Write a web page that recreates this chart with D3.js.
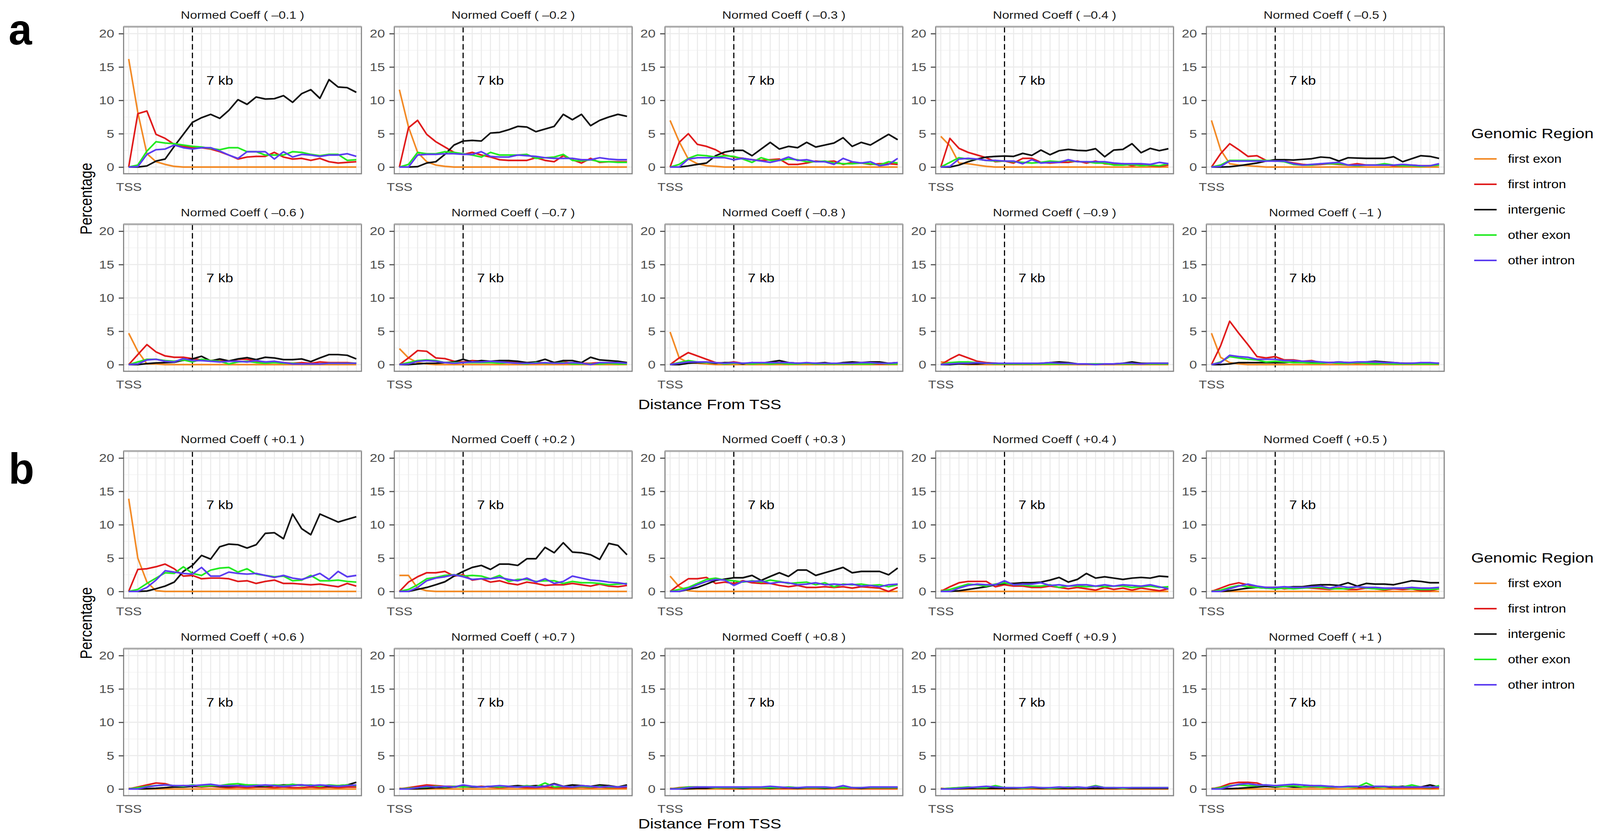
<!DOCTYPE html>
<html>
<head>
<meta charset="utf-8">
<script src="https://cdn.jsdelivr.net/npm/d3@7"></script>
<style>
  html, body { margin: 0; padding: 0; background: #fff; overflow: hidden; }
  svg { display: block; width: 100vw; height: 100vh; }
  text { font-family: "Liberation Sans", Arial, Helvetica, sans-serif; }
</style>
</head>
<body>
<svg id="chart"></svg>
<script>
// ---- data -------------------------------------------------------------
const regions = ["first exon", "first intron", "intergenic", "other exon", "other intron"];
const regionColors = ["#F28A26", "#E01B1C", "#111111", "#22EA22", "#5B3CF0"];

const coeffsA = ["–0.1", "–0.2", "–0.3", "–0.4", "–0.5", "–0.6", "–0.7", "–0.8", "–0.9", "–1"];
const coeffsB = ["+0.1", "+0.2", "+0.3", "+0.4", "+0.5", "+0.6", "+0.7", "+0.8", "+0.9", "+1"];

// distance bins from the TSS (kb)
const distanceKb = [0, 1, 2, 3, 4, 5, 6, 7, 8, 9, 10, 11, 12, 13, 14, 15, 16, 17, 18, 19, 20, 21, 22, 23, 24, 25];
const cutoffKb = 7;

// percentages, one row per panel (negative coefficients)
const firstExonA = [
  [16.2, 8.2, 2.0, 0.8, 0.4, 0.1, 0, 0, 0, 0, 0, 0, 0, 0, 0, 0, 0, 0, 0, 0, 0, 0, 0, 0, 0, 0],
  [11.6, 6.0, 2.2, 0.8, 0.3, 0.1, 0, 0, 0, 0, 0, 0, 0, 0, 0, 0, 0, 0, 0, 0, 0, 0, 0, 0, 0, 0],
  [7.0, 3.8, 1.2, 0.5, 0.2, 0.1, 0, 0, 0, 0, 0, 0, 0, 0, 0, 0, 0, 0, 0, 0, 0, 0, 0, 0, 0, 0],
  [4.6, 3.2, 0.6, 0.5, 0.3, 0.1, 0, 0, 0, 0, 0, 0, 0, 0, 0, 0, 0, 0, 0, 0, 0, 0, 0, 0, 0, 0],
  [7.0, 2.6, 0.5, 0.3, 0.2, 0.1, 0, 0, 0, 0, 0, 0, 0, 0, 0, 0, 0, 0, 0, 0, 0, 0, 0, 0, 0, 0],
  [4.7, 2.0, 0.1, 0.1, 0, 0, 0, 0, 0, 0, 0, 0, 0, 0, 0, 0, 0, 0, 0, 0, 0, 0, 0, 0, 0, 0],
  [2.4, 1.0, 0.3, 0.1, 0, 0, 0, 0, 0, 0, 0, 0, 0, 0, 0, 0, 0, 0, 0, 0, 0, 0, 0, 0, 0, 0],
  [4.9, 1.0, 0.3, 0.2, 0.1, 0, 0, 0, 0, 0, 0, 0, 0, 0, 0, 0, 0, 0, 0, 0, 0, 0, 0, 0, 0, 0],
  [0.4, 0.3, 0.1, 0, 0, 0, 0, 0, 0, 0, 0, 0, 0, 0, 0, 0, 0, 0, 0, 0, 0, 0, 0, 0, 0, 0],
  [4.7, 1.1, 0.3, 0.1, 0, 0, 0, 0, 0, 0, 0, 0, 0, 0, 0, 0, 0, 0, 0, 0, 0, 0, 0, 0, 0, 0]
];
const firstIntronA = [
  [0, 8.0, 8.4, 4.9, 4.3, 3.4, 3.1, 2.9, 2.9, 2.7, 2.3, 1.8, 1.2, 1.5, 1.6, 1.6, 2.2, 1.5, 1.2, 1.3, 1.0, 1.3, 0.8, 0.6, 0.7, 0.8],
  [0, 5.9, 7.0, 4.9, 3.8, 3.0, 2.2, 1.9, 2.2, 1.8, 1.5, 1.1, 1.0, 1.0, 1.0, 1.4, 1.0, 0.8, 1.7, 1.1, 0.6, 1.3, 0.7, 0.8, 0.8, 0.8],
  [0, 3.7, 5.0, 3.4, 3.1, 2.6, 1.8, 1.5, 1.3, 1.1, 1.0, 1.1, 1.2, 0.4, 0.4, 0.6, 0.9, 0.8, 0.9, 0.4, 0.7, 0.6, 0.4, 0.5, 0.5, 0.4],
  [0, 4.3, 2.8, 2.2, 1.8, 1.4, 0.8, 0.9, 0.6, 1.3, 1.3, 0.7, 0.6, 0.7, 0.7, 0.9, 0.6, 0.9, 0.5, 0.4, 0.5, 0.2, 0.4, 0.2, 0.1, 0.3],
  [0, 2.0, 3.5, 2.6, 1.6, 1.7, 1.0, 0.9, 0.9, 0.6, 0.4, 0.3, 0.4, 0.5, 0.4, 0.3, 0.5, 0.3, 0.3, 0.4, 0.2, 0.2, 0.3, 0.2, 0.2, 0.3],
  [0, 1.5, 3.0, 1.9, 1.3, 1.1, 1.1, 0.9, 0.7, 0.6, 0.7, 0.5, 0.8, 0.8, 0.5, 0.4, 0.4, 0.3, 0.2, 0.3, 0.2, 0.4, 0.3, 0.3, 0.3, 0.2],
  [0, 1.0, 2.1, 2.0, 1.0, 0.9, 0.5, 0.4, 0.6, 0.5, 0.4, 0.3, 0.4, 0.3, 0.2, 0.4, 0.2, 0.3, 0.4, 0.2, 0.2, 0.2, 0.3, 0.2, 0.2, 0.2],
  [0, 1.0, 1.8, 1.3, 0.8, 0.3, 0.2, 0.4, 0.2, 0.2, 0.2, 0.3, 0.2, 0.1, 0.2, 0.2, 0.1, 0.1, 0.1, 0.2, 0.1, 0.2, 0.1, 0.1, 0.1, 0.2],
  [0, 0.8, 1.5, 1.0, 0.5, 0.3, 0.2, 0.1, 0.1, 0.1, 0.1, 0.1, 0.2, 0.1, 0.1, 0.1, 0.1, 0.1, 0.1, 0.1, 0.1, 0.1, 0.1, 0.1, 0.1, 0.1],
  [0, 2.8, 6.5, 4.7, 3.0, 1.2, 1.0, 1.2, 0.7, 0.7, 0.5, 0.6, 0.3, 0.3, 0.4, 0.3, 0.2, 0.3, 0.2, 0.3, 0.2, 0.2, 0.1, 0.2, 0.2, 0.2]
];
const intergenicA = [
  [0, 0, 0.17, 0.9, 1.2, 3.1, 4.9, 6.7, 7.4, 7.9, 7.3, 8.5, 10.1, 9.4, 10.5, 10.2, 10.25, 10.7, 9.7, 11.0, 11.6, 10.3, 13.1, 12.0, 11.9, 11.2],
  [0, 0, 0.06, 0.6, 0.8, 1.9, 3.3, 3.9, 4.0, 3.9, 5.1, 5.2, 5.6, 6.1, 6.0, 5.3, 5.7, 6.1, 7.9, 7.1, 7.9, 6.2, 7.0, 7.5, 7.9, 7.6],
  [0, 0, 0.17, 0.4, 0.6, 1.7, 2.25, 2.5, 2.5, 1.7, 2.7, 3.7, 2.7, 3.1, 2.9, 3.7, 3.0, 3.3, 3.6, 4.4, 3.1, 3.7, 3.3, 4.1, 4.9, 4.1],
  [0, 0, 0.3, 0.8, 1.2, 1.5, 1.6, 1.65, 1.6, 2.05, 1.75, 2.55, 1.85, 2.45, 2.65, 2.5, 2.45, 2.75, 1.55, 2.55, 2.65, 3.5, 2.15, 2.8, 2.45, 2.75],
  [0, 0, 0.05, 0.2, 0.4, 0.6, 0.9, 1.1, 1.1, 1.05, 1.15, 1.25, 1.5, 1.4, 0.9, 1.4, 1.35, 1.3, 1.3, 1.3, 1.55, 0.8, 1.25, 1.7, 1.6, 1.3],
  [0, 0, 0.15, 0.25, 0.3, 0.35, 0.65, 0.85, 1.25, 0.55, 0.85, 0.55, 0.85, 1.05, 0.75, 1.1, 1.0, 0.75, 0.75, 0.85, 0.45, 1.0, 1.5, 1.5, 1.4, 0.85],
  [0, 0, 0.1, 0.2, 0.2, 0.3, 0.4, 0.8, 0.4, 0.6, 0.5, 0.6, 0.6, 0.5, 0.3, 0.4, 0.8, 0.3, 0.6, 0.6, 0.3, 1.1, 0.7, 0.6, 0.5, 0.3],
  [0, 0, 0.2, 0.3, 0.3, 0.2, 0.3, 0.3, 0.1, 0.3, 0.2, 0.4, 0.6, 0.3, 0.2, 0.2, 0.2, 0.3, 0.1, 0.3, 0.4, 0.3, 0.4, 0.4, 0.2, 0.3],
  [0, 0, 0.1, 0.1, 0.1, 0.2, 0.2, 0.1, 0.1, 0.1, 0.1, 0.2, 0.3, 0.4, 0.3, 0.1, 0.1, 0.1, 0.1, 0.1, 0.2, 0.4, 0.2, 0.2, 0.2, 0.2],
  [0, 0, 0.1, 0.3, 0.3, 0.3, 0.3, 0.3, 0.3, 0.4, 0.4, 0.3, 0.3, 0.3, 0.3, 0.3, 0.3, 0.4, 0.5, 0.4, 0.3, 0.2, 0.2, 0.2, 0.2, 0.2]
];
const otherExonA = [
  [0, 0.3, 2.4, 3.8, 3.6, 3.5, 3.3, 3.1, 3.0, 2.8, 2.6, 2.9, 2.9, 2.3, 2.3, 1.8, 1.8, 1.8, 2.3, 2.2, 1.9, 1.7, 1.9, 1.9, 1.0, 1.1],
  [0, 0.4, 2.2, 2.0, 2.0, 2.3, 2.2, 2.0, 1.8, 1.5, 2.2, 1.8, 1.8, 1.8, 1.9, 1.3, 1.4, 1.5, 1.9, 1.0, 0.9, 1.1, 0.8, 0.8, 0.7, 0.7],
  [0, 0.4, 1.3, 1.8, 1.7, 1.5, 1.7, 1.6, 1.2, 0.7, 1.4, 1.0, 1.0, 1.2, 1.1, 0.8, 0.8, 0.9, 0.6, 0.5, 0.5, 0.6, 0.5, 0.3, 0.8, 0.6],
  [0, 0.7, 1.4, 1.2, 1.2, 1.0, 0.9, 0.9, 0.8, 0.7, 0.6, 0.7, 0.9, 0.8, 1.0, 0.8, 0.8, 0.6, 0.6, 0.3, 0.3, 0.4, 0.2, 0.3, 0.2, 0.5],
  [0, 0.3, 1.0, 1.0, 1.0, 1.0, 1.0, 0.9, 0.8, 0.4, 0.3, 0.3, 0.5, 0.5, 0.5, 0.3, 0.2, 0.3, 0.3, 0.5, 0.3, 0.2, 0.2, 0.1, 0.2, 0.3],
  [0, 0.4, 0.8, 0.8, 0.6, 0.5, 0.7, 0.4, 0.8, 0.6, 0.5, 0.1, 0.4, 0.5, 0.3, 0.2, 0.3, 0.2, 0.2, 0.1, 0.1, 0.1, 0.2, 0.2, 0.2, 0.2],
  [0, 0.3, 0.6, 0.7, 0.6, 0.3, 0.3, 0.3, 0.3, 0.3, 0.3, 0.2, 0.3, 0.2, 0.1, 0.3, 0.2, 0.2, 0.3, 0.1, 0.1, 0.1, 0.1, 0.2, 0.1, 0.1],
  [0, 0.3, 0.6, 0.4, 0.3, 0.3, 0.1, 0.2, 0.2, 0.1, 0.2, 0.1, 0.2, 0.1, 0.1, 0.2, 0.1, 0.1, 0.1, 0.1, 0.1, 0.1, 0.1, 0.2, 0.1, 0.1],
  [0, 0.3, 0.4, 0.4, 0.3, 0.2, 0.1, 0.1, 0.1, 0.1, 0.1, 0.1, 0.1, 0.1, 0.1, 0.1, 0.1, 0.1, 0.1, 0.1, 0.1, 0.1, 0.1, 0.1, 0.1, 0.1],
  [0, 0.4, 1.2, 1.0, 0.8, 0.7, 0.4, 0.5, 0.4, 0.3, 0.3, 0.2, 0.2, 0.3, 0.2, 0.2, 0.3, 0.2, 0.1, 0.2, 0.1, 0.1, 0.1, 0.1, 0.1, 0.1]
];
const otherIntronA = [
  [0, 0.06, 1.9, 2.6, 2.7, 3.3, 2.9, 2.7, 2.9, 2.9, 2.4, 1.8, 1.3, 2.3, 2.3, 2.3, 1.2, 2.3, 1.5, 1.9, 1.8, 1.6, 1.8, 1.8, 2.0, 1.6],
  [0, 0, 1.8, 1.9, 1.9, 2.0, 2.0, 1.9, 1.9, 2.3, 1.6, 1.5, 1.5, 1.8, 1.7, 1.6, 1.4, 1.3, 1.3, 1.3, 1.1, 1.1, 1.4, 1.2, 1.1, 1.1],
  [0, 0, 1.2, 1.4, 1.4, 1.4, 1.4, 1.1, 1.3, 1.1, 0.9, 0.7, 1.0, 1.5, 1.0, 1.1, 0.8, 0.8, 0.4, 1.3, 0.8, 0.6, 0.8, 0.2, 0.4, 1.3],
  [0, 0.1, 1.2, 1.3, 1.2, 1.0, 1.0, 0.9, 0.9, 0.5, 1.1, 0.6, 0.7, 0.7, 1.1, 0.8, 0.8, 0.8, 0.8, 0.6, 0.5, 0.5, 0.5, 0.4, 0.7, 0.5],
  [0, 0.1, 0.9, 0.9, 0.9, 0.9, 0.9, 0.9, 0.9, 0.5, 0.3, 0.4, 0.5, 0.6, 0.7, 0.3, 0.3, 0.3, 0.3, 0.3, 0.3, 0.4, 0.3, 0.2, 0.2, 0.5],
  [0, 0.1, 0.7, 0.8, 0.5, 0.4, 0.9, 0.6, 0.6, 0.5, 0.4, 0.5, 0.5, 0.4, 0.6, 0.4, 0.5, 0.3, 0.1, 0.1, 0.1, 0.1, 0.2, 0.2, 0.2, 0.2],
  [0, 0.1, 0.5, 0.6, 0.5, 0.3, 0.2, 0.3, 0.4, 0.4, 0.5, 0.4, 0.3, 0.2, 0.2, 0.2, 0.3, 0.2, 0.2, 0.3, 0.2, 0.0, 0.3, 0.3, 0.3, 0.2],
  [0, 0.2, 0.4, 0.4, 0.4, 0.3, 0.2, 0.3, 0.2, 0.3, 0.3, 0.3, 0.3, 0.3, 0.2, 0.3, 0.2, 0.2, 0.2, 0.2, 0.2, 0.3, 0.3, 0.2, 0.2, 0.3],
  [0, 0.1, 0.2, 0.2, 0.3, 0.2, 0.2, 0.2, 0.2, 0.2, 0.2, 0.2, 0.3, 0.2, 0.2, 0.1, 0.1, 0.0, 0.1, 0.1, 0.2, 0.2, 0.1, 0.2, 0.2, 0.2],
  [0, 0.3, 1.4, 1.2, 1.1, 0.8, 0.8, 0.8, 0.6, 0.6, 0.5, 0.5, 0.4, 0.3, 0.4, 0.3, 0.4, 0.4, 0.4, 0.3, 0.3, 0.2, 0.2, 0.3, 0.3, 0.2]
];

// percentages, one row per panel (positive coefficients)
const firstExonB = [
  [13.9, 5.0, 1.4, 0.1, 0, 0, 0, 0, 0, 0, 0, 0, 0, 0, 0, 0, 0, 0, 0, 0, 0, 0, 0, 0, 0, 0],
  [2.4, 2.4, 0.5, 0.1, 0, 0, 0, 0, 0, 0, 0, 0, 0, 0, 0, 0, 0, 0, 0, 0, 0, 0, 0, 0, 0, 0],
  [2.3, 0.7, 0.1, 0, 0, 0, 0, 0, 0, 0, 0, 0, 0, 0, 0, 0, 0, 0, 0, 0, 0, 0, 0, 0, 0, 0],
  [0.2, 0.1, 0, 0, 0, 0, 0, 0, 0, 0, 0, 0, 0, 0, 0, 0, 0, 0, 0, 0, 0, 0, 0, 0, 0, 0],
  [0.1, 0, 0, 0, 0, 0, 0, 0, 0, 0, 0, 0, 0, 0, 0, 0, 0, 0, 0, 0, 0, 0, 0, 0, 0, 0],
  [0.1, 0, 0, 0, 0, 0, 0, 0, 0, 0, 0, 0, 0, 0, 0, 0, 0, 0, 0, 0, 0, 0, 0, 0, 0, 0],
  [0.1, 0, 0, 0, 0, 0, 0, 0, 0, 0, 0, 0, 0, 0, 0, 0, 0, 0, 0, 0, 0, 0, 0, 0, 0, 0],
  [0.1, 0, 0, 0, 0, 0, 0, 0, 0, 0, 0, 0, 0, 0, 0, 0, 0, 0, 0, 0, 0, 0, 0, 0, 0, 0],
  [0.1, 0, 0, 0, 0, 0, 0, 0, 0, 0, 0, 0, 0, 0, 0, 0, 0, 0, 0, 0, 0, 0, 0, 0, 0, 0],
  [0.1, 0.1, 0, 0, 0, 0, 0, 0, 0, 0, 0, 0, 0, 0, 0, 0, 0, 0, 0, 0, 0, 0, 0, 0, 0, 0]
];
const firstIntronB = [
  [0, 3.3, 3.4, 3.7, 4.1, 3.4, 2.3, 2.4, 1.9, 2.0, 2.0, 1.9, 1.5, 1.6, 1.2, 1.5, 1.7, 1.2, 1.2, 1.1, 1.0, 1.1, 0.9, 0.7, 1.2, 0.8],
  [0, 1.4, 2.2, 2.8, 2.8, 3.0, 2.3, 2.5, 1.7, 1.9, 1.4, 1.6, 1.2, 1.0, 1.4, 1.2, 0.9, 1.0, 1.0, 1.2, 1.0, 0.8, 1.1, 0.8, 0.7, 0.9],
  [0, 1.0, 1.9, 1.9, 2.1, 1.2, 1.4, 1.2, 1.6, 1.3, 1.2, 1.2, 0.9, 0.7, 0.9, 0.6, 0.6, 0.7, 0.6, 0.7, 0.5, 0.7, 0.6, 0.5, 0.0, 0.6],
  [0, 0.7, 1.3, 1.5, 1.5, 1.5, 0.7, 1.0, 0.8, 0.8, 0.6, 0.6, 0.8, 0.6, 0.4, 0.6, 0.4, 0.2, 0.6, 0.3, 0.5, 0.2, 0.5, 0.3, 0.1, 0.4],
  [0, 0.5, 1.0, 1.3, 1.0, 0.6, 0.6, 0.6, 0.4, 0.5, 0.6, 0.5, 0.4, 0.3, 0.5, 0.3, 0.3, 0.5, 0.4, 0.2, 0.4, 0.3, 0.4, 0.1, 0.1, 0.4],
  [0, 0.3, 0.6, 0.9, 0.8, 0.4, 0.5, 0.4, 0.3, 0.4, 0.3, 0.2, 0.3, 0.2, 0.3, 0.3, 0.2, 0.3, 0.2, 0.2, 0.3, 0.2, 0.3, 0.2, 0.3, 0.3],
  [0, 0.2, 0.4, 0.6, 0.5, 0.4, 0.4, 0.3, 0.3, 0.4, 0.3, 0.2, 0.3, 0.3, 0.2, 0.2, 0.3, 0.2, 0.2, 0.2, 0.3, 0.2, 0.3, 0.2, 0.2, 0.2],
  [0, 0.2, 0.3, 0.3, 0.2, 0.2, 0.1, 0.1, 0.1, 0.1, 0.1, 0.1, 0.1, 0.1, 0.1, 0.1, 0.1, 0.1, 0.1, 0.1, 0.1, 0.1, 0.1, 0.1, 0.1, 0.1],
  [0, 0.1, 0.2, 0.2, 0.2, 0.1, 0.1, 0.1, 0.1, 0.1, 0.1, 0.1, 0.1, 0.1, 0.1, 0.1, 0.1, 0.1, 0.1, 0.1, 0.1, 0.1, 0.1, 0.1, 0.1, 0.1],
  [0, 0.3, 0.8, 1.0, 1.0, 0.9, 0.4, 0.5, 0.5, 0.4, 0.3, 0.3, 0.3, 0.2, 0.3, 0.3, 0.2, 0.2, 0.2, 0.3, 0.2, 0.2, 0.2, 0.2, 0.1, 0.2]
];
const intergenicB = [
  [0, 0, 0.06, 0.4, 0.8, 1.4, 3.0, 3.9, 5.4, 4.85, 6.7, 7.1, 7.0, 6.5, 7.0, 8.7, 8.8, 7.9, 11.6, 9.4, 8.5, 11.6, 11.0, 10.4, 10.8, 11.2],
  [0, 0, 0.3, 0.6, 1.0, 1.45, 2.3, 3.0, 3.6, 3.9, 3.3, 4.1, 4.1, 3.9, 4.9, 4.9, 6.6, 5.8, 7.3, 5.9, 5.8, 5.5, 4.8, 7.2, 6.9, 5.5],
  [0, 0, 0.3, 0.6, 1.1, 1.65, 1.85, 2.05, 2.05, 2.4, 1.65, 2.25, 2.8, 2.25, 3.2, 3.2, 2.4, 2.8, 3.2, 3.6, 2.8, 3.0, 3.0, 3.0, 2.5, 3.5],
  [0, 0, 0.1, 0.3, 0.5, 0.7, 1.0, 1.2, 1.2, 1.3, 1.3, 1.4, 1.7, 2.1, 1.4, 1.8, 2.7, 2.0, 2.2, 2.0, 1.8, 2.0, 2.1, 2.0, 2.3, 2.2],
  [0, 0, 0.1, 0.3, 0.5, 0.6, 0.5, 0.6, 0.6, 0.7, 0.7, 0.9, 1.0, 1.0, 0.9, 1.3, 0.8, 1.2, 1.1, 1.1, 1.0, 1.3, 1.6, 1.5, 1.3, 1.3],
  [0, 0, 0.05, 0.1, 0.2, 0.3, 0.3, 0.4, 0.5, 0.5, 0.4, 0.4, 0.5, 0.6, 0.4, 0.4, 0.5, 0.6, 0.6, 0.6, 0.5, 0.5, 0.4, 0.5, 0.6, 1.0],
  [0, 0, 0.05, 0.1, 0.2, 0.2, 0.3, 0.4, 0.3, 0.3, 0.4, 0.3, 0.4, 0.5, 0.4, 0.5, 0.4, 0.8, 0.4, 0.6, 0.5, 0.4, 0.6, 0.5, 0.3, 0.6],
  [0, 0, 0.05, 0.1, 0.1, 0.2, 0.2, 0.2, 0.1, 0.2, 0.2, 0.1, 0.2, 0.2, 0.1, 0.2, 0.2, 0.1, 0.2, 0.2, 0.2, 0.1, 0.2, 0.2, 0.2, 0.2],
  [0, 0, 0.05, 0.1, 0.1, 0.1, 0.1, 0.1, 0.1, 0.1, 0.2, 0.1, 0.1, 0.1, 0.1, 0.1, 0.1, 0.1, 0.1, 0.1, 0.1, 0.1, 0.1, 0.1, 0.1, 0.1],
  [0, 0, 0.05, 0.1, 0.2, 0.3, 0.4, 0.3, 0.4, 0.3, 0.3, 0.5, 0.3, 0.4, 0.3, 0.3, 0.3, 0.4, 0.3, 0.3, 0.3, 0.4, 0.3, 0.3, 0.6, 0.3]
];
const otherExonB = [
  [0, 0.3, 1.2, 2.0, 2.8, 2.7, 3.7, 2.7, 2.4, 3.2, 3.5, 3.6, 2.9, 3.4, 2.6, 2.4, 2.2, 2.3, 1.6, 1.7, 2.4, 1.6, 1.6, 1.7, 1.5, 1.4],
  [0, 0.3, 1.0, 1.9, 2.1, 2.4, 2.5, 2.3, 2.4, 2.3, 1.9, 2.4, 1.5, 1.8, 1.8, 1.5, 1.6, 1.6, 1.2, 1.5, 1.3, 1.3, 1.2, 1.0, 1.1, 1.2],
  [0, 0.3, 0.6, 1.2, 1.8, 2.0, 1.7, 1.6, 1.4, 1.6, 1.4, 1.7, 1.5, 1.2, 1.3, 1.4, 1.0, 1.3, 0.7, 1.1, 1.0, 1.1, 0.9, 1.0, 0.7, 1.0],
  [0, 0.3, 0.7, 1.1, 1.0, 0.8, 1.1, 1.3, 1.0, 1.0, 0.8, 0.8, 1.0, 0.6, 0.8, 0.8, 0.7, 0.8, 0.7, 0.8, 0.8, 0.6, 0.7, 0.8, 0.6, 0.7],
  [0, 0.2, 0.6, 0.9, 0.7, 0.6, 0.5, 0.4, 0.5, 0.4, 0.5, 0.6, 0.6, 0.4, 0.4, 0.4, 0.7, 0.5, 0.4, 0.3, 0.5, 0.5, 0.4, 0.3, 0.3, 0.4],
  [0, 0.2, 0.4, 0.5, 0.6, 0.5, 0.4, 0.6, 0.4, 0.5, 0.5, 0.7, 0.8, 0.6, 0.6, 0.5, 0.6, 0.5, 0.7, 0.5, 0.6, 0.4, 0.6, 0.5, 0.6, 0.5],
  [0, 0.1, 0.2, 0.3, 0.4, 0.3, 0.4, 0.3, 0.4, 0.3, 0.4, 0.3, 0.4, 0.3, 0.5, 0.3, 0.9, 0.3, 0.4, 0.3, 0.4, 0.3, 0.4, 0.3, 0.3, 0.4],
  [0, 0.1, 0.3, 0.3, 0.3, 0.2, 0.2, 0.2, 0.2, 0.2, 0.2, 0.2, 0.2, 0.3, 0.2, 0.2, 0.2, 0.2, 0.2, 0.2, 0.2, 0.2, 0.2, 0.2, 0.2, 0.2],
  [0, 0.1, 0.2, 0.3, 0.2, 0.2, 0.5, 0.2, 0.2, 0.1, 0.2, 0.2, 0.1, 0.2, 0.3, 0.2, 0.2, 0.5, 0.2, 0.2, 0.1, 0.2, 0.2, 0.2, 0.2, 0.2],
  [0, 0.2, 0.5, 0.6, 0.5, 0.5, 0.6, 0.4, 0.4, 0.5, 0.3, 0.4, 0.3, 0.3, 0.3, 0.3, 0.3, 0.9, 0.3, 0.3, 0.4, 0.3, 0.6, 0.3, 0.2, 0.5]
];
const otherIntronB = [
  [0, 0, 0.6, 1.7, 3.1, 2.9, 2.7, 2.6, 3.6, 2.3, 2.3, 2.9, 2.7, 2.6, 2.7, 2.4, 2.1, 2.4, 2.0, 1.8, 2.2, 2.7, 1.8, 3.0, 2.2, 2.4],
  [0, 0, 0.6, 1.6, 2.0, 2.2, 2.5, 2.2, 1.8, 1.9, 1.9, 2.1, 1.8, 1.6, 2.0, 1.4, 1.9, 1.2, 1.5, 2.3, 2.0, 1.7, 1.6, 1.4, 1.3, 1.1],
  [0, 0, 0.4, 1.0, 1.5, 1.8, 1.7, 0.9, 1.5, 1.5, 1.6, 1.2, 1.4, 1.3, 1.0, 1.1, 1.3, 1.0, 1.1, 1.0, 1.1, 0.8, 0.9, 0.7, 1.0, 1.1],
  [0, 0, 0.5, 0.9, 1.1, 1.0, 1.0, 1.6, 1.0, 1.1, 1.1, 1.3, 0.9, 1.0, 0.8, 1.0, 1.0, 0.8, 1.0, 0.8, 1.0, 0.9, 0.8, 1.0, 0.7, 0.4],
  [0, 0, 0.4, 0.8, 1.1, 0.8, 0.6, 0.6, 0.7, 0.6, 0.6, 0.7, 0.8, 0.5, 0.8, 0.6, 0.7, 0.6, 0.6, 0.5, 0.5, 0.5, 0.6, 0.5, 0.5, 0.6],
  [0, 0, 0.3, 0.5, 0.6, 0.5, 0.5, 0.5, 0.6, 0.7, 0.5, 0.5, 0.5, 0.4, 0.5, 0.6, 0.5, 0.4, 0.5, 0.6, 0.5, 0.6, 0.5, 0.4, 0.5, 0.6],
  [0, 0, 0.2, 0.4, 0.3, 0.4, 0.3, 0.6, 0.4, 0.3, 0.4, 0.5, 0.4, 0.3, 0.4, 0.3, 0.4, 0.7, 0.4, 0.3, 0.5, 0.4, 0.3, 0.4, 0.3, 0.4],
  [0, 0, 0.2, 0.3, 0.3, 0.3, 0.3, 0.3, 0.3, 0.3, 0.3, 0.4, 0.3, 0.2, 0.2, 0.3, 0.3, 0.3, 0.2, 0.5, 0.2, 0.2, 0.3, 0.3, 0.3, 0.3],
  [0, 0, 0.1, 0.2, 0.3, 0.4, 0.3, 0.2, 0.2, 0.2, 0.3, 0.2, 0.2, 0.3, 0.2, 0.3, 0.2, 0.4, 0.2, 0.2, 0.2, 0.2, 0.2, 0.2, 0.2, 0.2],
  [0, 0, 0.4, 0.7, 0.8, 0.6, 0.6, 0.5, 0.6, 0.7, 0.6, 0.5, 0.5, 0.4, 0.3, 0.4, 0.4, 0.3, 0.4, 0.4, 0.3, 0.3, 0.3, 0.3, 0.3, 0.3]
];

const yTicks = [0, 5, 10, 15, 20];
const yMinor = [2.5, 7.5, 12.5, 17.5];

// ---- layout -----------------------------------------------------------
const W = 4272, H = 2149;
const panelW = 635, panelH = 376;
const left0 = 330, colStep = 722.75;
const rowTops = [69, 575];
const partShift = 1087;     // vertical offset of figure b
const SX = 1.22;            // the original plot is stretched horizontally
const font = '"Liberation Sans", Arial, Helvetica, sans-serif';

// map the 4272 x 2149 drawing onto the whole window
const svg = d3.select("#chart")
  .attr("viewBox", `0 0 ${W} ${H}`)
  .attr("preserveAspectRatio", "none");
svg.append("rect").attr("width", W).attr("height", H).attr("fill", "#fff");

const x = d3.scalePoint().domain(distanceKb).range([0, panelW]).padding(0.56);
const y = d3.scaleLinear().domain([-1, 21]).range([panelH, 0]);

const line = d3.line()
  .x((d, i) => x(distanceKb[i]))
  .y(d => y(d));

function stretchText(sel) {
  return sel.attr("transform", function () {
    const prev = d3.select(this).attr("transform") || "";
    return prev + ` scale(${SX},1)`;
  });
}

function drawPanel(g, series, coeff) {
  g.append("rect").attr("width", panelW).attr("height", panelH).attr("fill", "#fff");

  g.selectAll(".gminor").data(yMinor).join("line")
    .attr("x1", 0).attr("x2", panelW)
    .attr("y1", d => y(d)).attr("y2", d => y(d))
    .attr("stroke", "#F2F2F2").attr("stroke-width", 1.6);

  g.selectAll(".gmajor").data(yTicks).join("line")
    .attr("x1", 0).attr("x2", panelW)
    .attr("y1", d => y(d)).attr("y2", d => y(d))
    .attr("stroke", "#EBEBEB").attr("stroke-width", 2.8);

  g.selectAll(".gx").data(distanceKb).join("line")
    .attr("x1", d => x(d)).attr("x2", d => x(d))
    .attr("y1", 0).attr("y2", panelH)
    .attr("stroke", "#EBEBEB").attr("stroke-width", 2.8);

  g.append("line")
    .attr("x1", x(cutoffKb)).attr("x2", x(cutoffKb))
    .attr("y1", 0).attr("y2", panelH)
    .attr("stroke", "#000").attr("stroke-width", 3)
    .attr("stroke-dasharray", "14,8");

  g.selectAll(".series").data(series).join("path")
    .attr("d", d => line(d))
    .attr("fill", "none")
    .attr("stroke", (d, i) => regionColors[i])
    .attr("stroke-width", 4.2)
    .attr("stroke-linejoin", "round");

  g.append("text")
    .attr("transform", `translate(${x(10)},${y(13)})`)
    .attr("text-anchor", "middle").attr("dy", "0.36em")
    .style("font-size", "31px").attr("fill", "#000")
    .text("7 kb")
    .call(stretchText);

  g.append("rect").attr("width", panelW).attr("height", panelH)
    .attr("fill", "none").attr("stroke", "#858585").attr("stroke-width", 3);
  g.append("line").attr("x1", 0).attr("x2", panelW).attr("y1", -1).attr("y2", -1)
    .attr("stroke", "#ADADAD").attr("stroke-width", 4);

  const ya = g.append("g").call(d3.axisLeft(y).tickValues(yTicks).tickSize(13).tickPadding(12));
  ya.select(".domain").remove();
  ya.selectAll("line").attr("stroke", "#4D4D4D").attr("stroke-width", 2.8);
  ya.selectAll("text")
    .attr("x", -25 / SX)
    .attr("fill", "#4D4D4D").style("font-size", "30px").style("font-family", font)
    .call(stretchText);

  const xa = g.append("g").attr("transform", `translate(0,${panelH})`)
    .call(d3.axisBottom(x).tickValues([0]).tickFormat(() => "TSS").tickSize(0).tickPadding(23));
  xa.select(".domain").remove();
  xa.selectAll("text")
    .attr("fill", "#4D4D4D").style("font-size", "29px").style("font-family", font)
    .call(stretchText);

  g.append("text")
    .attr("transform", `translate(${panelW / 2},-21)`)
    .attr("text-anchor", "middle")
    .style("font-size", "28px").attr("fill", "#1A1A1A")
    .text(`Normed Coeff ( ${coeff} )`)
    .call(stretchText);
}

function drawPart(offset, letter, letterY, coeffs, fe, fi, ig, oe, oi, xTitleY) {
  const part = svg.append("g").attr("transform", `translate(0,${offset})`);

  coeffs.forEach((c, k) => {
    const col = k % 5, row = Math.floor(k / 5);
    const g = part.append("g")
      .attr("transform", `translate(${left0 + col * colStep},${rowTops[row]})`);
    drawPanel(g, [fe[k], fi[k], ig[k], oe[k], oi[k]], c);
  });

  part.append("text")
    .attr("x", 23).attr("y", letterY)
    .style("font-size", "112px").style("font-weight", "bold").attr("fill", "#000")
    .text(letter);

  part.append("text")
    .attr("transform", `translate(230,509) scale(${SX},1) rotate(-90)`)
    .attr("text-anchor", "middle").attr("dy", "0.35em")
    .style("font-size", "36px").attr("fill", "#000")
    .text("Percentage");

  part.append("text")
    .attr("transform", `translate(1895,${xTitleY}) scale(${SX},1)`)
    .attr("text-anchor", "middle")
    .style("font-size", "36px").attr("fill", "#000")
    .text("Distance From TSS");

  // legend
  const lg = part.append("g").attr("transform", "translate(3928,0)");
  lg.append("text")
    .attr("transform", `translate(0,354) scale(${SX},1)`)
    .style("font-size", "36px").attr("fill", "#000")
    .text("Genomic Region");
  const items = lg.selectAll(".item").data(regions).join("g")
    .attr("transform", (d, i) => `translate(0,${407 + i * 65})`);
  items.append("line")
    .attr("x1", 8).attr("x2", 68)
    .attr("stroke", (d, i) => regionColors[i]).attr("stroke-width", 4.2);
  items.append("text")
    .attr("transform", `translate(98,0) scale(${SX},1)`)
    .attr("dy", "0.35em")
    .style("font-size", "29px").attr("fill", "#000")
    .text(d => d);
}

drawPart(0, "a", 114, coeffsA, firstExonA, firstIntronA, intergenicA, otherExonA, otherIntronA, 1048);
drawPart(partShift, "b", 152, coeffsB, firstExonB, firstIntronB, intergenicB, otherExonB, otherIntronB, 1035);
</script>
</body>
</html>
